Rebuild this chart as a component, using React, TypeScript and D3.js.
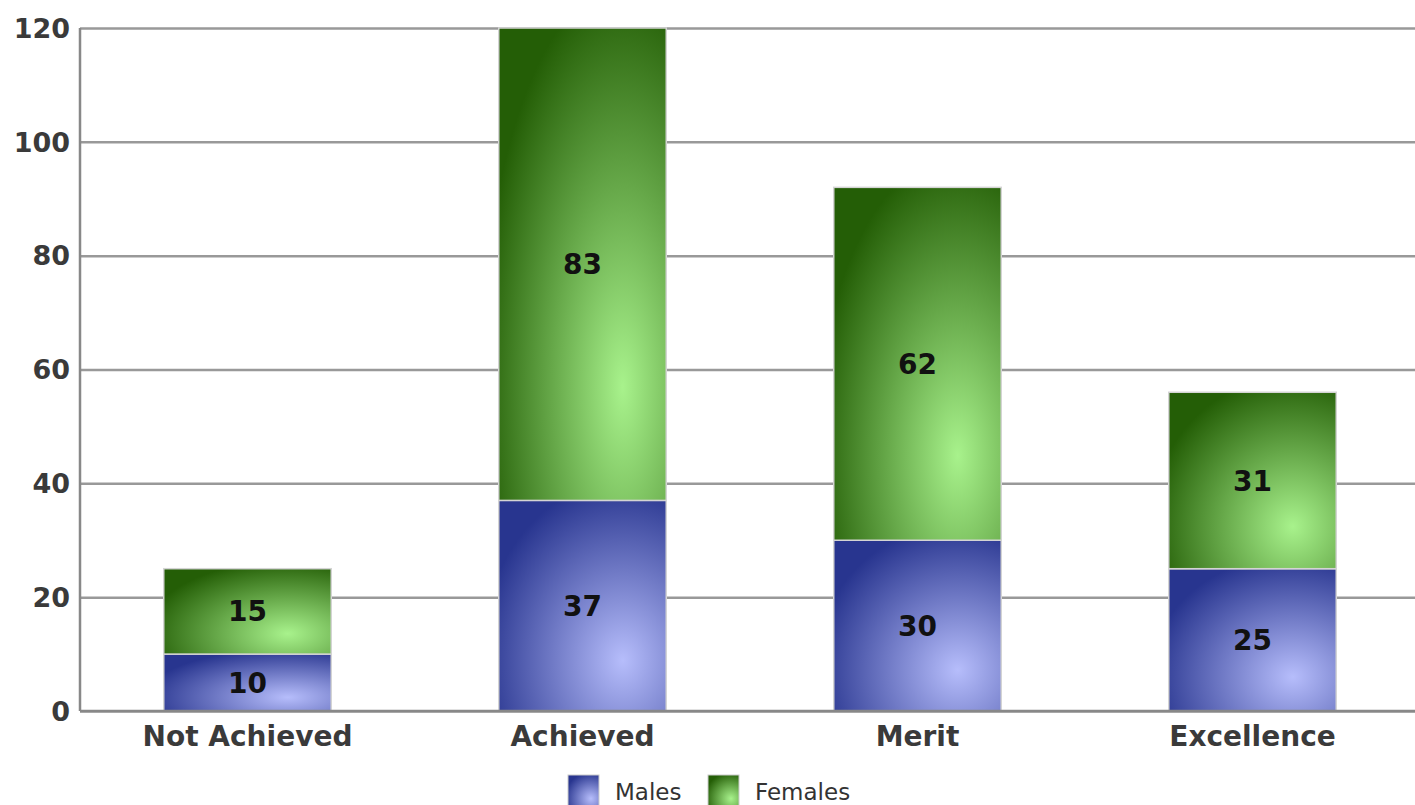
import React, { useEffect, useRef } from 'react';
import * as d3 from 'd3';

const categories = ['Not Achieved', 'Achieved', 'Merit', 'Excellence'];
const males = [10, 37, 30, 25];
const females = [15, 83, 62, 31];
const yTicks = [0, 20, 40, 60, 80, 100, 120];
const seriesNames = ['Males', 'Females'];

const WIDTH = 1415;
const HEIGHT = 805;

const App: React.FC = () => {
  const svgRef = useRef<SVGSVGElement>(null);

  useEffect(() => {
    if (!svgRef.current) return;
    const svg = d3.select(svgRef.current);
    svg.selectAll('*').remove();

    const margin = { top: 28, right: -5, bottom: 94, left: 80 };
    const innerWidth = WIDTH - margin.left - margin.right;
    const innerHeight = HEIGHT - margin.top - margin.bottom;
    const font = '"DejaVu Sans", Verdana, sans-serif';

    // Gradients
    const defs = svg.append('defs');
    const makeGrad = (id: string, dark: string, light: string) => {
      const g = defs.append('radialGradient')
        .attr('id', id)
        .attr('cx', 0.74).attr('cy', 0.76)
        .attr('fx', 0.74).attr('fy', 0.76)
        .attr('r', 0.85);
      g.append('stop').attr('offset', '0%').attr('stop-color', light);
      g.append('stop').attr('offset', '100%').attr('stop-color', dark);
    };
    makeGrad('gradMales', '#28358f', '#b6bdfb');
    makeGrad('gradFemales', '#245e06', '#a8f28c');
    const fills = ['url(#gradMales)', 'url(#gradFemales)'];

    const x = d3.scaleBand()
      .domain(categories)
      .range([0, innerWidth])
      .paddingInner(0.5)
      .paddingOuter(0.25);

    const y = d3.scaleLinear()
      .domain([0, 120])
      .range([innerHeight, 0]);

    const g = svg.append('g')
      .attr('transform', `translate(${margin.left},${margin.top})`);

    // Grid lines
    g.append('g')
      .call(d3.axisLeft(y).tickValues(yTicks).tickSize(-innerWidth - 20).tickFormat(() => ''))
      .call(s => s.select('.domain').remove())
      .selectAll('line')
      .attr('stroke', '#999')
      .attr('stroke-width', 2.5);

    // Left axis line
    g.append('line')
      .attr('x1', 0).attr('x2', 0)
      .attr('y1', 0).attr('y2', innerHeight)
      .attr('stroke', '#888')
      .attr('stroke-width', 2.5);

    // Y tick labels
    g.append('g')
      .selectAll('text')
      .data(yTicks)
      .enter().append('text')
      .attr('x', -10)
      .attr('y', d => y(d))
      .attr('dy', '0.36em')
      .attr('text-anchor', 'end')
      .style('font-family', font)
      .style('font-weight', 'bold')
      .style('font-size', '27px')
      .attr('fill', '#3a3a3a')
      .text(d => d);

    // Stacked bars
    const stackData = categories.map((c, i) => ({ category: c, Males: males[i], Females: females[i] }));
    const stack = d3.stack<any>().keys(seriesNames)(stackData);

    stack.forEach((layer, li) => {
      layer.forEach((d: any) => {
        const cat = d.data.category;
        const x0 = x(cat)!;
        const top = y(d[1]);
        const bottom = y(d[0]);
        g.append('rect')
          .attr('x', x0)
          .attr('y', top)
          .attr('width', x.bandwidth())
          .attr('height', bottom - top)
          .attr('fill', fills[li])
          .attr('stroke', '#d4d4d4')
          .attr('stroke-width', 1.5);
      });
    });

    // Bottom axis line
    g.append('line')
      .attr('x1', 0).attr('x2', innerWidth + 20)
      .attr('y1', innerHeight).attr('y2', innerHeight)
      .attr('stroke', '#888')
      .attr('stroke-width', 2.5);

    // Data labels
    stack.forEach(layer => {
      layer.forEach((d: any) => {
        const cat = d.data.category;
        g.append('text')
          .attr('x', x(cat)! + x.bandwidth() / 2)
          .attr('y', (y(d[0]) + y(d[1])) / 2)
          .attr('dy', '0.36em')
          .attr('text-anchor', 'middle')
          .style('font-family', font)
          .style('font-weight', 'bold')
          .style('font-size', '28px')
          .attr('fill', '#111')
          .text(d[1] - d[0]);
      });
    });

    // Category labels
    g.append('g')
      .selectAll('text')
      .data(categories)
      .enter().append('text')
      .attr('x', d => x(d)! + x.bandwidth() / 2)
      .attr('y', innerHeight + 35)
      .attr('text-anchor', 'middle')
      .style('font-family', font)
      .style('font-weight', 'bold')
      .style('font-size', '28px')
      .attr('fill', '#3a3a3a')
      .text(d => d);

    // Legend
    const legend = svg.append('g').attr('transform', 'translate(568,775)');
    const legendX = [0, 140];
    seriesNames.forEach((name, i) => {
      const row = legend.append('g').attr('transform', `translate(${legendX[i]},0)`);
      row.append('rect')
        .attr('width', 31)
        .attr('height', 31)
        .attr('fill', fills[i])
        .attr('stroke', '#ccc')
        .attr('stroke-width', 1);
      row.append('text')
        .attr('x', 47)
        .attr('y', 25)
        .style('font-family', font)
        .style('font-size', '23px')
        .attr('fill', '#333')
        .text(name);
    });
  }, []);

  return (
    <svg
      ref={svgRef}
      width={WIDTH}
      height={HEIGHT}
      style={{ position: 'absolute', left: 0, top: 0, background: '#fff' }}
    />
  );
};

export default App;
